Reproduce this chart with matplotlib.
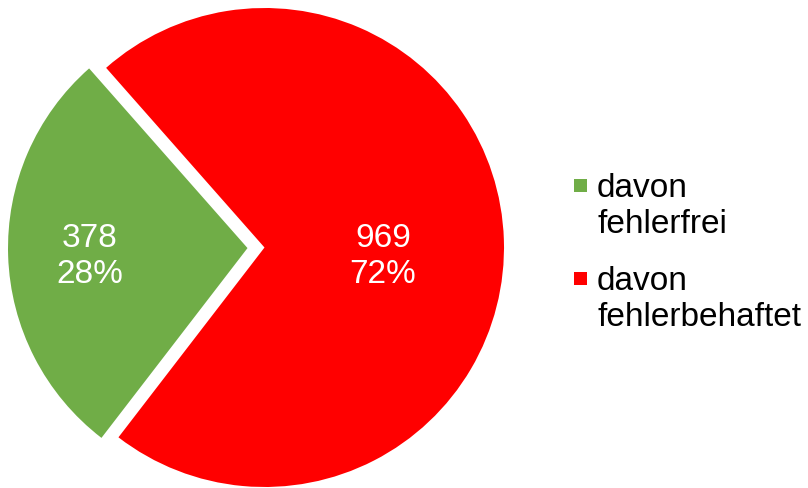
import numpy as np
import matplotlib
matplotlib.use("Agg")
import matplotlib.pyplot as plt
from matplotlib.patches import Rectangle

# slice data
labels = [["davon", "fehlerfrei"], ["davon", "fehlerbehaftet"]]
counts = [378, 969]
colors = ["#70AD47", "#FF0000"]
explode = [17, 0]          # in data units (axes are in pixels)
label_dist = [0.658, 0.495]

plt.rcParams['font.family'] = ['Liberation Sans', 'DejaVu Sans']
FS = 24
LINE = 36   # baseline to baseline, px

W, H = 808, 489
fig = plt.figure(figsize=(W / 100, H / 100), dpi=100)
ax = fig.add_axes([0, 0, 1, 1])

total = sum(counts)
wedges, _ = ax.pie(counts, colors=colors, explode=explode, startangle=131.4,
                   counterclock=True, radius=239.5, center=(264.5, H - 248.5),
                   wedgeprops=dict(linewidth=0), frame=True)
ax.set_xlim(0, W)
ax.set_ylim(0, H)
ax.set_aspect('equal')
ax.axis('off')

# value + percent labels inside the slices
for w, c, d in zip(wedges, counts, label_dist):
    mid = np.deg2rad((w.theta1 + w.theta2) / 2)
    cx, cy = w.center
    x = cx + d * w.r * np.cos(mid)
    y = H - 248.5 - 4.5
    ax.text(x, y + 6, f"{c}", ha='center', va='baseline', color='white', fontsize=FS)
    ax.text(x, y + 6 - LINE, f"{c / total:.0%}", ha='center', va='baseline',
            color='white', fontsize=FS)

# legend, drawn by hand so the marker sits on the first line
for i, (lab, col) in enumerate(zip(labels, colors)):
    base = H - (197 + 93 * i)
    ax.add_patch(Rectangle((574, base + 4), 13, 13, color=col, lw=0))
    for j, line in enumerate(lab):
        ax.text(597, base - j * LINE, line, ha='left', va='baseline',
                color='black', fontsize=FS)

fig.savefig("out.png", dpi=100)
